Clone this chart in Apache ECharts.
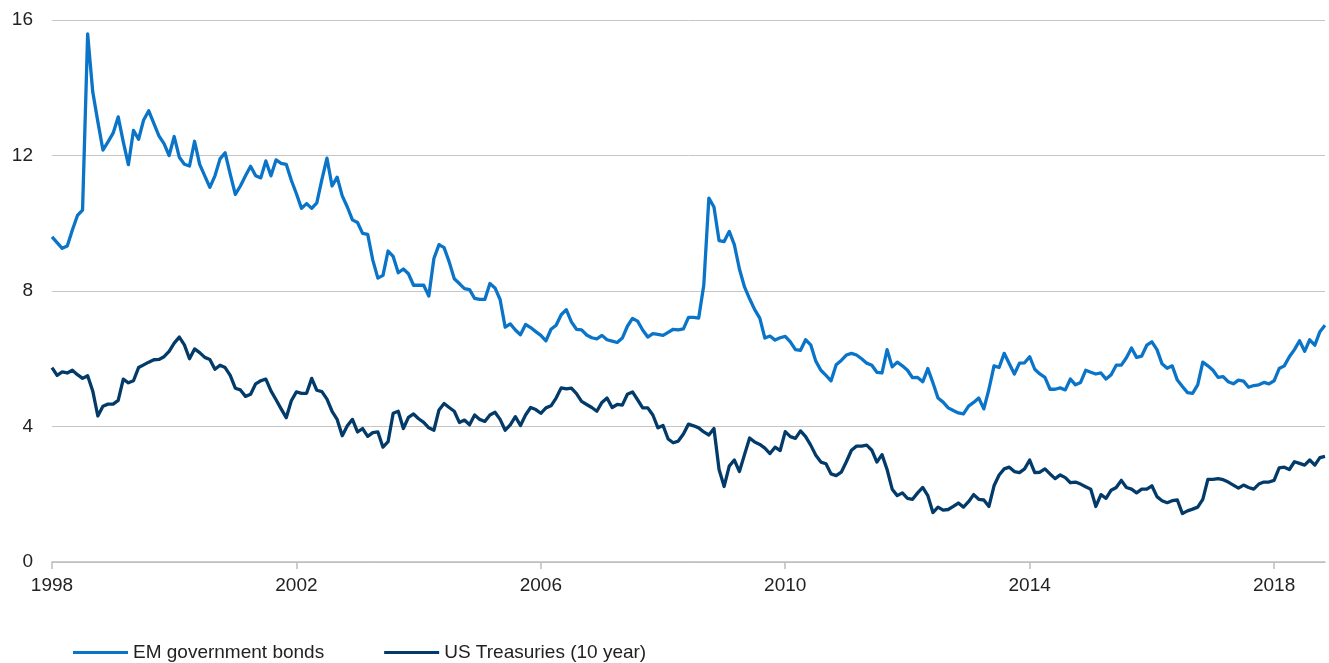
<!DOCTYPE html>
<html>
<head>
<meta charset="utf-8">
<script src="https://cdn.jsdelivr.net/npm/echarts@6/dist/echarts.min.js"></script>
<style>
html,body{margin:0;padding:0;background:#fff;}
#chart{width:1329px;height:663px;}
</style>
</head>
<body>
<div id="chart"></div>
<script>
// Monthly observations, Jan 1998 .. Nov 2018
var firstYear = 1998, firstMonth = 1, lastYear = 2018, lastMonth = 11;
var labelYears = ['1998', '2002', '2006', '2010', '2014', '2018'];
var yTicks = [0, 4, 8, 12, 16];
var seriesNames = ['EM government bonds', 'US Treasuries (10 year)'];

var emGovBonds = [
 9.6, 9.43, 9.26, 9.33, 9.8, 10.23, 10.39, 15.59, 13.88, 13.0, 12.16, 12.4,
 12.66, 13.14, 12.4, 11.73, 12.74, 12.48, 13.05, 13.32, 12.95, 12.58, 12.35, 12.0,
 12.56, 11.95, 11.74, 11.69, 12.42, 11.74, 11.4, 11.06, 11.4, 11.9, 12.08, 11.45,
 10.85, 11.1, 11.4, 11.68, 11.4, 11.34, 11.84, 11.4, 11.87, 11.77, 11.74, 11.27,
 10.87, 10.44, 10.58, 10.44, 10.6, 11.29, 11.92, 11.1, 11.36, 10.81, 10.48, 10.1,
 10.02, 9.7, 9.67, 8.91, 8.38, 8.46, 9.18, 9.02, 8.54, 8.65, 8.51, 8.17,
 8.17, 8.17, 7.85, 8.96, 9.37, 9.28, 8.86, 8.36, 8.22, 8.07, 8.04, 7.78,
 7.75, 7.75, 8.22, 8.09, 7.75, 6.93, 7.03, 6.85, 6.71, 7.01, 6.92, 6.8,
 6.69, 6.53, 6.87, 6.99, 7.3, 7.45, 7.09, 6.87, 6.85, 6.7, 6.62, 6.59,
 6.69, 6.56, 6.52, 6.48, 6.61, 6.96, 7.19, 7.11, 6.85, 6.64, 6.74, 6.72,
 6.69, 6.78, 6.87, 6.85, 6.88, 7.22, 7.22, 7.2, 8.17, 10.74, 10.48, 9.49,
 9.46, 9.76, 9.37, 8.65, 8.12, 7.77, 7.45, 7.2, 6.61, 6.67, 6.55, 6.62,
 6.66, 6.5, 6.27, 6.25, 6.56, 6.41, 5.93, 5.66, 5.51, 5.35, 5.82, 5.95,
 6.11, 6.16, 6.11, 6.0, 5.87, 5.81, 5.6, 5.58, 6.27, 5.76, 5.9, 5.79,
 5.66, 5.44, 5.45, 5.32, 5.71, 5.29, 4.84, 4.72, 4.55, 4.47, 4.4, 4.37,
 4.6, 4.71, 4.84, 4.52, 5.1, 5.79, 5.74, 6.16, 5.85, 5.55, 5.87, 5.88,
 6.06, 5.69, 5.55, 5.45, 5.1, 5.1, 5.14, 5.08, 5.4, 5.23, 5.3, 5.66,
 5.6, 5.55, 5.58, 5.4, 5.53, 5.81, 5.81, 6.03, 6.32, 6.04, 6.08, 6.4,
 6.5, 6.27, 5.85, 5.72, 5.79, 5.37, 5.18, 5.0, 4.98, 5.23, 5.9, 5.79,
 5.66, 5.45, 5.47, 5.32, 5.26, 5.37, 5.34, 5.16, 5.21, 5.23, 5.3, 5.26,
 5.35, 5.71, 5.79, 6.06, 6.27, 6.53, 6.22, 6.56, 6.4, 6.8, 6.99
];

var usTreasuries10y = [
 5.74, 5.51, 5.61, 5.58, 5.66, 5.53, 5.42, 5.5, 5.05, 4.31, 4.6, 4.66,
 4.66, 4.77, 5.4, 5.29, 5.35, 5.74, 5.82, 5.9, 5.97, 5.98, 6.06, 6.22,
 6.46, 6.64, 6.41, 6.0, 6.29, 6.18, 6.04, 5.98, 5.69, 5.81, 5.74, 5.51,
 5.13, 5.08, 4.89, 4.95, 5.26, 5.35, 5.4, 5.05, 4.79, 4.52, 4.26, 4.76,
 5.02, 4.98, 4.98, 5.42, 5.07, 5.03, 4.81, 4.45, 4.21, 3.73, 4.02, 4.21,
 3.84, 3.94, 3.71, 3.82, 3.84, 3.39, 3.55, 4.39, 4.45, 3.94, 4.27, 4.37,
 4.23, 4.12, 3.96, 3.89, 4.49, 4.68, 4.56, 4.45, 4.12, 4.19, 4.05, 4.34,
 4.21, 4.15, 4.34, 4.42, 4.21, 3.89, 4.05, 4.29, 4.03, 4.34, 4.56, 4.5,
 4.39, 4.55, 4.61, 4.84, 5.14, 5.11, 5.13, 4.97, 4.74, 4.65, 4.56, 4.45,
 4.71, 4.84, 4.56, 4.65, 4.63, 4.95, 5.02, 4.79, 4.55, 4.55, 4.34, 3.96,
 4.03, 3.63, 3.52, 3.57, 3.78, 4.07, 4.02, 3.96, 3.84, 3.75, 3.94, 2.73,
 2.23, 2.83, 3.01, 2.67, 3.17, 3.66, 3.54, 3.47, 3.36, 3.2, 3.39, 3.29,
 3.85, 3.7, 3.65, 3.87, 3.7, 3.45, 3.15, 2.95, 2.9, 2.6, 2.55, 2.65,
 2.96, 3.3, 3.42, 3.42, 3.45, 3.3, 2.95, 3.17, 2.73, 2.15, 1.96, 2.04,
 1.88, 1.85, 2.04, 2.2, 1.96, 1.46, 1.62, 1.53, 1.55, 1.64, 1.74, 1.62,
 1.78, 1.99, 1.85, 1.83, 1.64, 2.25, 2.57, 2.75, 2.8, 2.67, 2.64, 2.75,
 3.01, 2.64, 2.65, 2.75, 2.6, 2.46, 2.57, 2.49, 2.34, 2.36, 2.3, 2.22,
 2.15, 1.64, 1.99, 1.88, 2.12, 2.2, 2.41, 2.2, 2.15, 2.04, 2.15, 2.15,
 2.25, 1.93, 1.81, 1.75, 1.81, 1.83, 1.43, 1.51, 1.56, 1.62, 1.85, 2.44,
 2.44, 2.46, 2.43, 2.36, 2.27, 2.18, 2.27, 2.2, 2.15, 2.3, 2.36, 2.36,
 2.41, 2.78, 2.8, 2.73, 2.96, 2.91, 2.86, 3.01, 2.86, 3.08, 3.12
];

// month categories
var months = [];
for (var y = firstYear; y <= lastYear; y++) {
  for (var m = 1; m <= 12; m++) {
    if (y === firstYear && m < firstMonth) continue;
    if (y === lastYear && m > lastMonth) break;
    months.push(y + '-' + (m < 10 ? '0' + m : '' + m));
  }
}

function isLabelMonth(idx, val) {
  return val.slice(5) === '01' && labelYears.indexOf(val.slice(0, 4)) >= 0;
}

var FONT = "'Liberation Sans', Arial, sans-serif";
var chart = echarts.init(document.getElementById('chart'), null, {renderer: 'canvas'});
chart.setOption({
  animation: false,
  backgroundColor: '#ffffff',
  grid: {left: 52, right: 4, top: 20, bottom: 101, containLabel: false},
  legend: {
    left: 68,
    top: 638,
    icon: 'rect',
    itemWidth: 55,
    itemHeight: 3,
    itemGap: 60,
    textStyle: {fontFamily: FONT, fontSize: 19, color: '#222'},
    data: seriesNames
  },
  xAxis: {
    type: 'category',
    boundaryGap: false,
    data: months,
    axisLine: {show: true, lineStyle: {color: '#bdbdbd', width: 1.5}},
    axisTick: {show: true, interval: isLabelMonth, length: 7, lineStyle: {color: '#bdbdbd', width: 1.5}},
    axisLabel: {
      interval: isLabelMonth,
      margin: 14,
      fontFamily: FONT,
      fontSize: 19,
      color: '#222',
      formatter: function (v) { return v.slice(0, 4); }
    },
    splitLine: {show: false}
  },
  yAxis: {
    type: 'value',
    min: yTicks[0],
    max: yTicks[yTicks.length - 1],
    interval: 4,
    axisLine: {show: false},
    axisTick: {show: false},
    axisLabel: {margin: 19, fontFamily: FONT, fontSize: 19, color: '#222'},
    splitLine: {show: true, lineStyle: {color: '#c6c6c6', width: 1}}
  },
  series: [
    {
      name: seriesNames[0],
      type: 'line',
      data: emGovBonds,
      symbol: 'none',
      color: '#0a74c8',
      lineStyle: {width: 3.3, color: '#0a74c8', join: 'round'}
    },
    {
      name: seriesNames[1],
      type: 'line',
      data: usTreasuries10y,
      symbol: 'none',
      color: '#023b69',
      lineStyle: {width: 3.3, color: '#023b69', join: 'round'}
    }
  ]
});
</script>
</body>
</html>
